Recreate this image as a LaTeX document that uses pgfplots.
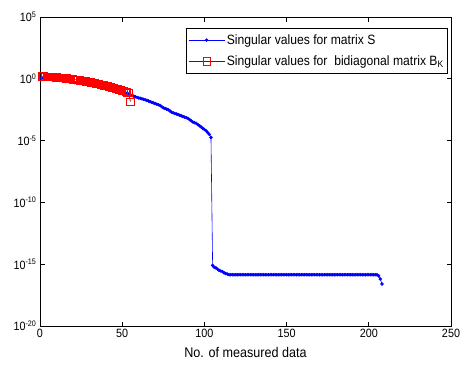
\documentclass[border=0pt]{standalone}
\usepackage{pgfplots}
\pgfplotsset{compat=1.18}
\usepackage{pgfplotstable}
\usepackage{fontspec}
\setmainfont{Liberation Sans}[FakeStretch=0.9]
\definecolor{mblue}{RGB}{0,0,255}
\definecolor{mdred}{RGB}{140,0,0}
\definecolor{mred}{RGB}{255,0,0}
% blue: log10 of singular values of S
\pgfplotstableread{
x ly
1 0.05
2 0.03
3 0.02
4 0.0
5 -0.02
6 -0.03
7 -0.05
8 -0.06
9 -0.08
10 -0.1
11 -0.11
12 -0.13
13 -0.14
14 -0.16
15 -0.18
16 -0.2
17 -0.22
18 -0.24
19 -0.26
20 -0.28
21 -0.3
22 -0.32
23 -0.34
24 -0.36
25 -0.38
26 -0.4
27 -0.42
28 -0.45
29 -0.47
30 -0.5
31 -0.52
32 -0.55
33 -0.58
34 -0.6
35 -0.62
36 -0.64
37 -0.67
38 -0.7
39 -0.73
40 -0.76
41 -0.79
42 -0.82
43 -0.85
44 -0.88
45 -0.91
46 -0.94
47 -0.97
48 -1.0
49 -1.03
50 -1.06
51 -1.1
52 -1.15
53 -1.2
54 -1.25
55 -1.3
56 -1.35
57 -1.4
58 -1.45
59 -1.5
60 -1.55
61 -1.58
62 -1.62
63 -1.66
64 -1.7
65 -1.75
66 -1.8
67 -1.85
68 -1.9
69 -1.95
70 -2.0
71 -2.05
72 -2.1
73 -2.15
74 -2.25
75 -2.35
76 -2.4
77 -2.45
78 -2.5
79 -2.6
80 -2.7
81 -2.75
82 -2.8
83 -2.85
84 -2.9
85 -2.95
86 -3.0
87 -3.05
88 -3.1
89 -3.15
90 -3.2
91 -3.3
92 -3.4
93 -3.5
94 -3.55
95 -3.6
96 -3.7
97 -3.8
98 -3.9
99 -4.0
100 -4.1
101 -4.2
102 -4.35
103 -4.5
104 -4.75
105 -15.1
106 -15.25
107 -15.3
108 -15.4
109 -15.5
110 -15.55
111 -15.6
112 -15.7
113 -15.75
114 -15.8
115 -15.85
116 -15.85
117 -15.85
118 -15.85
119 -15.85
120 -15.85
121 -15.85
122 -15.85
123 -15.85
124 -15.85
125 -15.85
126 -15.85
127 -15.85
128 -15.85
129 -15.85
130 -15.85
131 -15.85
132 -15.85
133 -15.85
134 -15.85
135 -15.85
136 -15.85
137 -15.85
138 -15.85
139 -15.85
140 -15.85
141 -15.85
142 -15.85
143 -15.85
144 -15.85
145 -15.85
146 -15.85
147 -15.85
148 -15.85
149 -15.85
150 -15.85
151 -15.85
152 -15.85
153 -15.85
154 -15.85
155 -15.85
156 -15.85
157 -15.85
158 -15.85
159 -15.85
160 -15.85
161 -15.85
162 -15.85
163 -15.85
164 -15.85
165 -15.85
166 -15.85
167 -15.85
168 -15.85
169 -15.85
170 -15.85
171 -15.85
172 -15.85
173 -15.85
174 -15.85
175 -15.85
176 -15.85
177 -15.85
178 -15.85
179 -15.85
180 -15.85
181 -15.85
182 -15.85
183 -15.85
184 -15.85
185 -15.85
186 -15.85
187 -15.85
188 -15.85
189 -15.85
190 -15.85
191 -15.85
192 -15.85
193 -15.85
194 -15.85
195 -15.85
196 -15.85
197 -15.85
198 -15.85
199 -15.85
200 -15.85
201 -15.85
202 -15.85
203 -15.85
204 -15.85
205 -15.85
206 -15.95
207 -16.2
208 -16.6
}\sdata
% red: log10 of singular values of B_k
\pgfplotstableread{
x ly
1 0.2
2 0.2
3 0.19
4 0.18
5 0.17
6 0.16
7 0.15
8 0.14
9 0.13
10 0.12
11 0.1
12 0.09
13 0.08
14 0.06
15 0.05
16 0.03
17 0.02
18 0.0
19 -0.02
20 -0.04
21 -0.06
22 -0.08
23 -0.1
24 -0.12
25 -0.14
26 -0.16
27 -0.18
28 -0.2
29 -0.23
30 -0.26
31 -0.29
32 -0.32
33 -0.35
34 -0.38
35 -0.41
36 -0.44
37 -0.47
38 -0.5
39 -0.53
40 -0.56
41 -0.6
42 -0.64
43 -0.68
44 -0.72
45 -0.76
46 -0.8
47 -0.84
48 -0.88
49 -0.92
50 -0.96
51 -1.0
52 -1.05
53 -1.1
54 -1.15
55 -1.85
}\bdata
\begin{document}
\begin{tikzpicture}
\useasboundingbox (-40pt,-41pt) rectangle (425pt,326pt);
\begin{axis}[
  scale only axis,
  width=411pt, height=309pt,
  xmin=0, xmax=250, ymin=-20, ymax=5,
  xtick={0,50,100,150,200,250},
  ytick={-20,-15,-10,-5,0,5},
  yticklabels={10\textsuperscript{-20},10\textsuperscript{-15},10\textsuperscript{-10},10\textsuperscript{-5},10\textsuperscript{0},10\textsuperscript{5}},
  /pgf/number format/assume math mode=true,
  tick align=inside,
  major tick length=4.5pt,
  tick style={black, line width=0.7pt},
  axis line style={black, line width=0.7pt},
  ticklabel style={font=\fontsize{12}{14}\selectfont},
  xlabel={No. of measured data},
  xlabel style={font=\fontsize{14}{16}\selectfont, yshift=-2pt},
  legend style={at={(axis description cs:0.993,0.964)}, anchor=north east,
    font=\fontsize{13.5}{15}\selectfont, draw=black, line width=0.7pt,
    row sep=6pt, inner xsep=2pt, inner ysep=4pt},
  legend cell align=left,
  legend image code/.code={
    \draw[#1] (0pt,0pt) -- (36pt,0pt);
    \draw[#1, only marks] plot coordinates {(18pt,0pt)};
  },
]
\addplot[mblue, line width=0.6pt, mark=*, mark size=1.4pt, mark options={fill=mblue, draw=mblue}] table[x=x, y=ly] {\sdata};
\addlegendentry{Singular values for matrix S}
\addplot[mdred, line width=0.7pt, mark=square, mark size=3.6pt, mark options={draw=mred, line width=0.7pt}] table[x=x, y=ly] {\bdata};
\addlegendentry{Singular values for \ bidiagonal matrix B\textsubscript{K}}
\end{axis}
\end{tikzpicture}
\end{document}
